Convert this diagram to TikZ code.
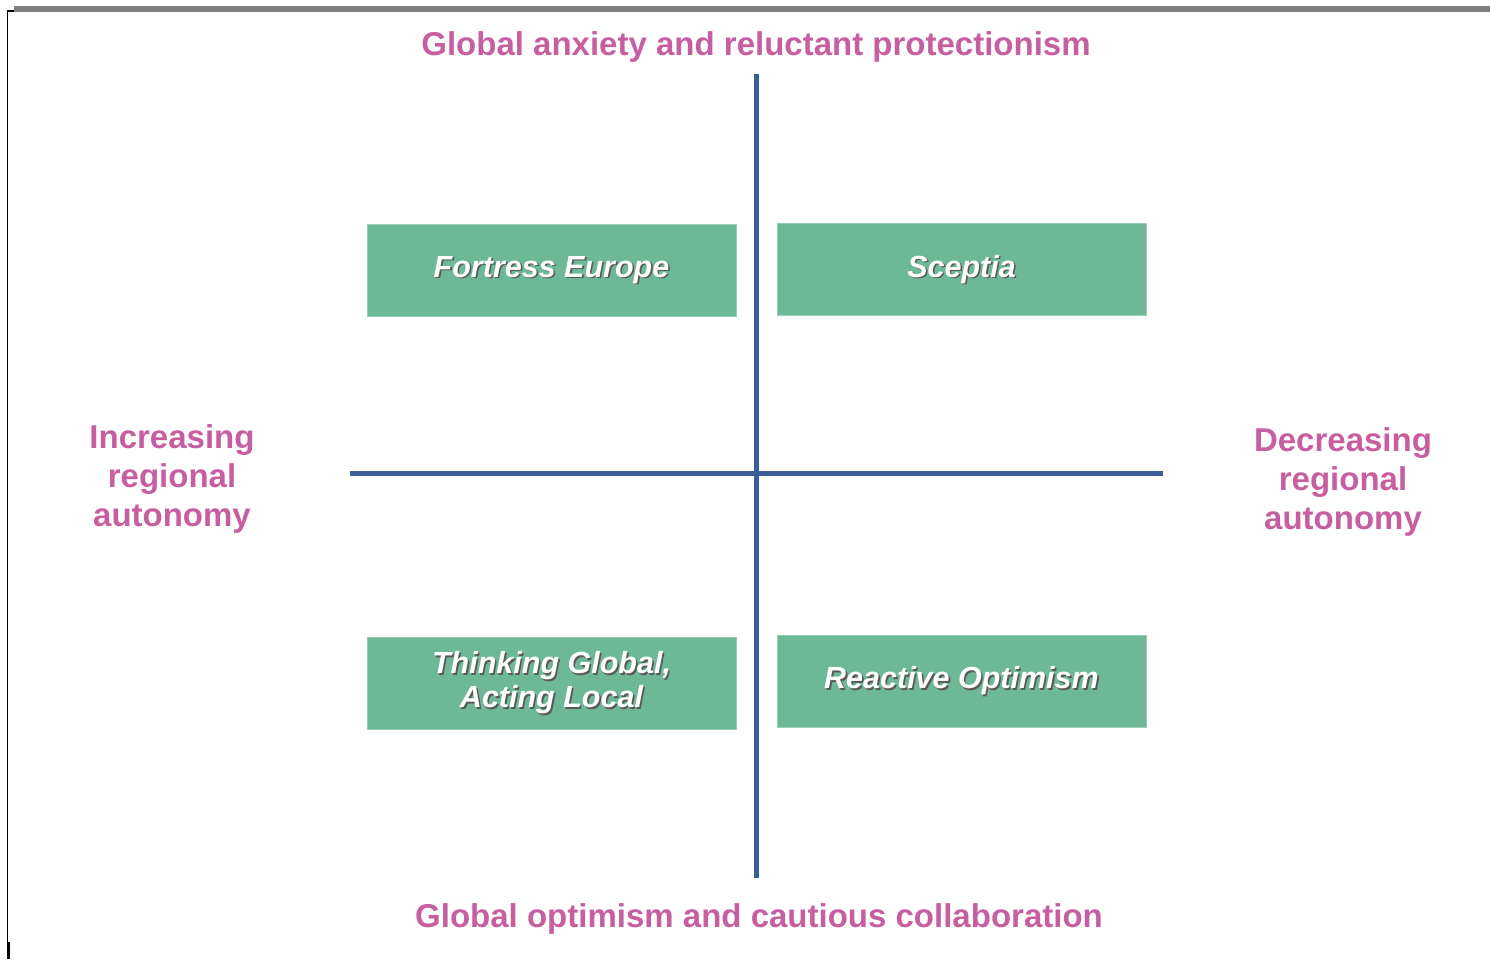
\documentclass[tikz,border=0pt]{standalone}
\usepackage{fontspec}
\setmainfont{Liberation Sans}
\definecolor{scengreen}{RGB}{109,185,151}
\definecolor{scenedge}{RGB}{150,205,180}
\definecolor{axisblue}{RGB}{59,94,152}
\definecolor{polepink}{RGB}{198,94,160}

\tikzset{
  scen/.style={fill=scengreen, draw=scenedge, line width=1pt,
    minimum width=369pt, minimum height=92pt, inner sep=0pt},
  scentext/.style={text=white, font=\fontsize{30.5}{34}\selectfont\bfseries\itshape,
    align=center, inner sep=0pt},
  scenshade/.style={scentext, text=black!65},
  axis/.style={draw=axisblue, line width=5pt},
  pole/.style={text=polepink, font=\fontsize{33}{39}\selectfont\bfseries, align=center}
}

% box, shadow, white text
\def\szenario#1#2#3#4{
  \node[scen] (#1) at (#2,#3) {};
  \node[scenshade] at ([shift={(1.6,1.6)}]#1) {#4};
  \node[scentext] (#1-t) at (#1) {#4};
}

\begin{document}
\begin{tikzpicture}[x=1pt,y=-1pt]
\useasboundingbox (0,0) rectangle (1490,959);

% frame
\fill[gray] (14,6) rectangle (1490,12);
\draw[line width=1.5pt] (14,11) -- (7.5,11) -- (7.5,945);
\fill[black] (7,942) rectangle (9.5,959);

% axes
\coordinate (top) at (756,74);
\coordinate (bot) at (756,878);
\coordinate (lft) at (350,473);
\coordinate (rgt) at (1163,473);
\draw[axis] (top) -- (bot);
\draw[axis] (lft) -- (rgt);

% scenarios
\szenario{fe}{551.5}{270}{Fortress Europe}
\szenario{sc}{961.5}{269.5}{Sceptia}
\szenario{tg}{551.5}{683}{Thinking Global,\\Acting Local}
\szenario{ro}{961.5}{681}{Reactive Optimism}

% poles
\node[pole,anchor=base] (anx) at (756,55) {Global anxiety and reluctant protectionism};
\node[pole,anchor=base] (opt) at (759,927) {Global optimism and cautious collaboration};
\node[pole] (inc) at (172,479) {Increasing\\regional\\autonomy};
\node[pole] (dec) at (1343,482) {Decreasing\\regional\\autonomy};
\end{tikzpicture}
\end{document}
